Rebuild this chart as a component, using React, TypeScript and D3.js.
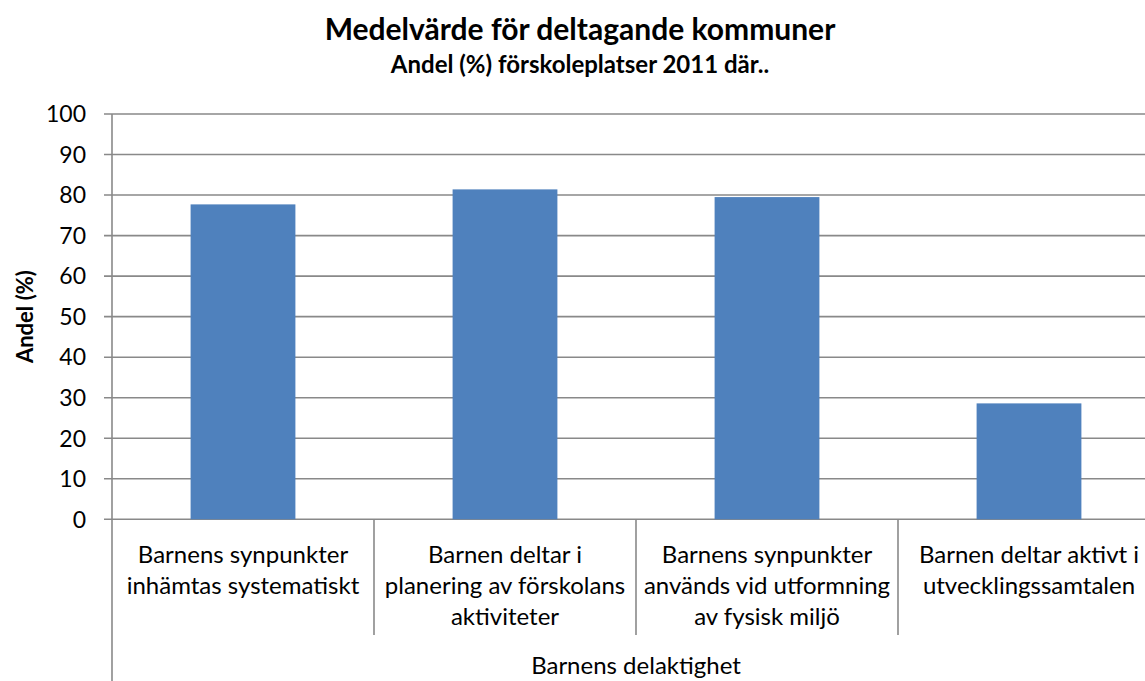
import React from "react";
import * as d3 from "d3";

const categories: string[][] = [
  ["Barnens synpunkter", "inhämtas systematiskt"],
  ["Barnen deltar i", "planering av förskolans", "aktiviteter"],
  ["Barnens synpunkter", "används vid utformning", "av fysisk miljö"],
  ["Barnen deltar aktivt i", "utvecklingssamtalen"],
];
const values: number[] = [77.7, 81.4, 79.5, 28.6];
const yTicks: number[] = [0, 10, 20, 30, 40, 50, 60, 70, 80, 90, 100];
const groupLabel = "Barnens delaktighet";
const title = "Medelvärde för deltagande kommuner";
const subtitle = "Andel (%) förskoleplatser 2011 där..";
const yTitle = "Andel (%)";

const W = 1145;
const H = 681;
const left = 112;
const right = 1160;
const top = 114;
const bottom = 519.3;
const font = "Lato, 'Open Sans', sans-serif";
const grid = "#898989";

export default function App() {
  const keys = categories.map((_, i) => String(i));
  const x = d3.scaleBand<string>().domain(keys).range([left, right]).paddingInner(0.6).paddingOuter(0.3);
  const y = d3.scaleLinear().domain([0, 100]).range([bottom, top]);
  const step = x.step();
  return (
    <svg width={W} height={H} style={{ position: "fixed", left: 0, top: 0, background: "#fff" }}>
      <rect x={0} y={0} width={W} height={H} fill="#fff" />
      <text x={580} y={40} textAnchor="middle" fontFamily={font} fontWeight="bold" fontSize={30} fill="#000">
        {title}
      </text>
      <text x={580} y={73} textAnchor="middle" fontFamily={font} fontWeight="bold" fontSize={24} fill="#000">
        {subtitle}
      </text>
      {yTicks.map((t) => (
        <g key={t}>
          <line x1={104} x2={right} y1={y(t)} y2={y(t)} stroke={grid} strokeWidth={1.6} />
          <text x={86} y={y(t)} dy="0.36em" textAnchor="end" fontFamily={font} fontSize={23} fill="#000">
            {t}
          </text>
        </g>
      ))}
      <line x1={left} x2={left} y1={top} y2={H + 5} stroke={grid} strokeWidth={1.6} />
      {keys.map((k, i) =>
        i > 0 ? (
          <line key={k} x1={left + i * step} x2={left + i * step} y1={bottom} y2={635} stroke={grid} strokeWidth={1.6} />
        ) : null
      )}
      {keys.map((k, i) => (
        <rect key={k} x={x(k)} y={y(values[i])} width={x.bandwidth()} height={y(0) - y(values[i])} fill="#4F81BD" />
      ))}
      {categories.map((lines, i) => (
        <text key={i} textAnchor="middle" fontFamily={font} fontSize={24} fill="#000">
          {lines.map((l, j) => (
            <tspan key={j} x={(x(String(i)) as number) + x.bandwidth() / 2} y={563 + j * 31}>
              {l}
            </tspan>
          ))}
        </text>
      ))}
      <text x={(left + right) / 2} y={674} textAnchor="middle" fontFamily={font} fontSize={24} fill="#000">
        {groupLabel}
      </text>
      <text
        transform={`translate(${33},${(top + bottom) / 2}) rotate(-90)`}
        textAnchor="middle"
        fontFamily={font}
        fontWeight="bold"
        fontSize={22}
        fill="#000"
      >
        {yTitle}
      </text>
    </svg>
  );
}
